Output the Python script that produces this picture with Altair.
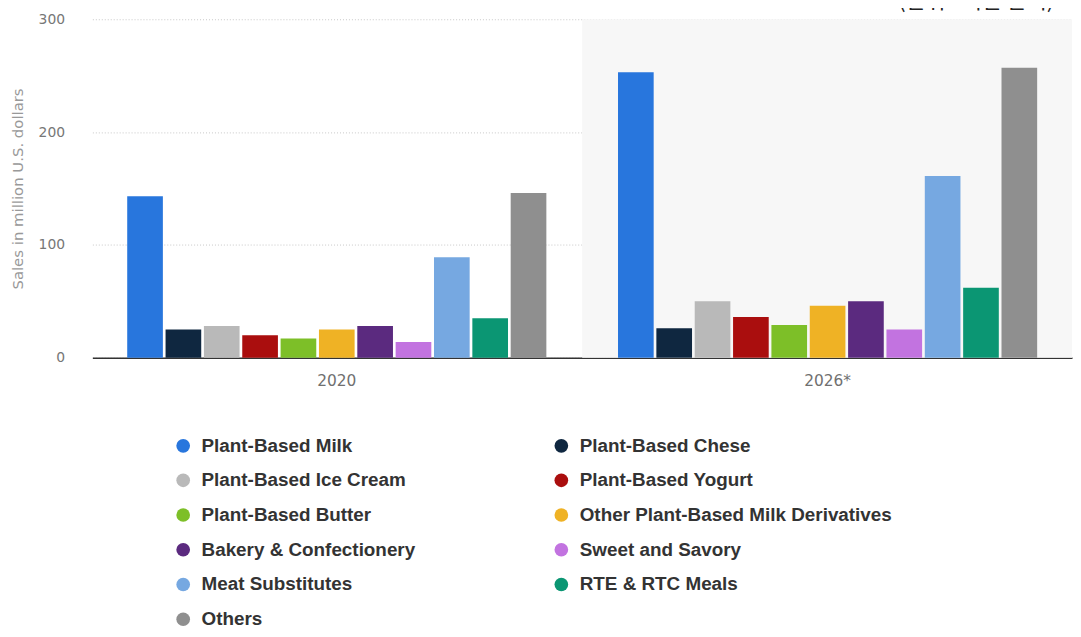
import altair as alt
import pandas as pd

categories = [
    "Plant-Based Milk", "Plant-Based Chese", "Plant-Based Ice Cream",
    "Plant-Based Yogurt", "Plant-Based Butter", "Other Plant-Based Milk Derivatives",
    "Bakery & Confectionery", "Sweet and Savory", "Meat Substitutes",
    "RTE & RTC Meals", "Others",
]
colors = [
    "#2876dd", "#0f2740", "#b9b9b9", "#aa0e0e", "#7dbf28", "#efb225",
    "#5b2a7f", "#c273e0", "#76a8e1", "#0b9673", "#8f8f8f",
]
years = ["2020", "2026*"]
values_2020 = [143, 25, 28, 20, 17, 25, 28, 14, 89, 35, 146]
values_2026 = [253, 26, 50, 36, 29, 46, 50, 25, 161, 62, 257]
unit_note = "(단위 : 백만 달러)"

rows = []
for y, vals in zip(years, [values_2020, values_2026]):
    for c, v in zip(categories, vals):
        rows.append({"year": y, "category": c, "value": v})
df = pd.DataFrame(rows)

W, H = 987, 341

band = alt.Chart(pd.DataFrame({"k": [1]})).mark_rect(color="#f7f7f7").encode(
    x=alt.value({"expr": "width/2"}),
    x2=alt.value("width"),
    y=alt.value(0),
    y2=alt.value("height"),
)

bars = alt.Chart(df).mark_bar().encode(
    x=alt.X("year:N", sort=years, title=None,
            scale=alt.Scale(paddingInner=0.146, paddingOuter=0.071),
            axis=alt.Axis(labelAngle=0, ticks=False, labelPadding=16,
                          labelFontSize=15.5, labelColor="#707070", labelFont="DejaVu Sans",
                          domainColor="#333333", domainWidth=1.5, grid=False)),
    xOffset=alt.XOffset("category:N", sort=categories,
                        scale=alt.Scale(paddingInner=0.07, paddingOuter=0)),
    y=alt.Y("value:Q", title="Sales in million U.S. dollars",
            scale=alt.Scale(domain=[0, 300]),
            axis=alt.Axis(values=[0, 100, 200, 300], domain=False, ticks=False,
                          labelPadding=28, labelFontSize=14, labelColor="#777777",
                          labelFont="DejaVu Sans", titleFont="DejaVu Sans",
                          titleFontSize=15, titleFontWeight="normal",
                          titleColor="#999999", titleX=-67,
                          gridColor="#c8c8c8", gridDash=[1, 2], gridWidth=1)),
    color=alt.Color("category:N", sort=categories,
                    scale=alt.Scale(domain=categories, range=colors),
                    legend=alt.Legend(title=None, orient="none", legendX=82, legendY=420,
                                      columns=2, direction="horizontal",
                                      columnPadding=137, rowPadding=15,
                                      symbolType="circle", symbolSize=190,
                                      symbolStrokeWidth=0, symbolOffset=0,
                                      labelFont="Liberation Sans",
                                      labelFontSize=19, labelFontWeight="bold",
                                      labelColor="#333333", labelOffset=9,
                                      labelLimit=400)),
)

note = alt.Chart(pd.DataFrame({"t": [unit_note]})).mark_text(
    align="right", baseline="bottom", fontSize=22, font="Noto Sans CJK KR",
    color="#222222",
).encode(text="t:N", x=alt.value(969), y=alt.value(-6))

chart = alt.layer(band, bars, note).properties(
    width=W, height=H,
    autosize=alt.AutoSizeParams(type="none"),
    padding={"left": 85, "top": 9, "right": 1, "bottom": 271},
).configure_view(stroke=None)

chart.save("out.html", embed_options={"renderer": "svg", "actions": False})
